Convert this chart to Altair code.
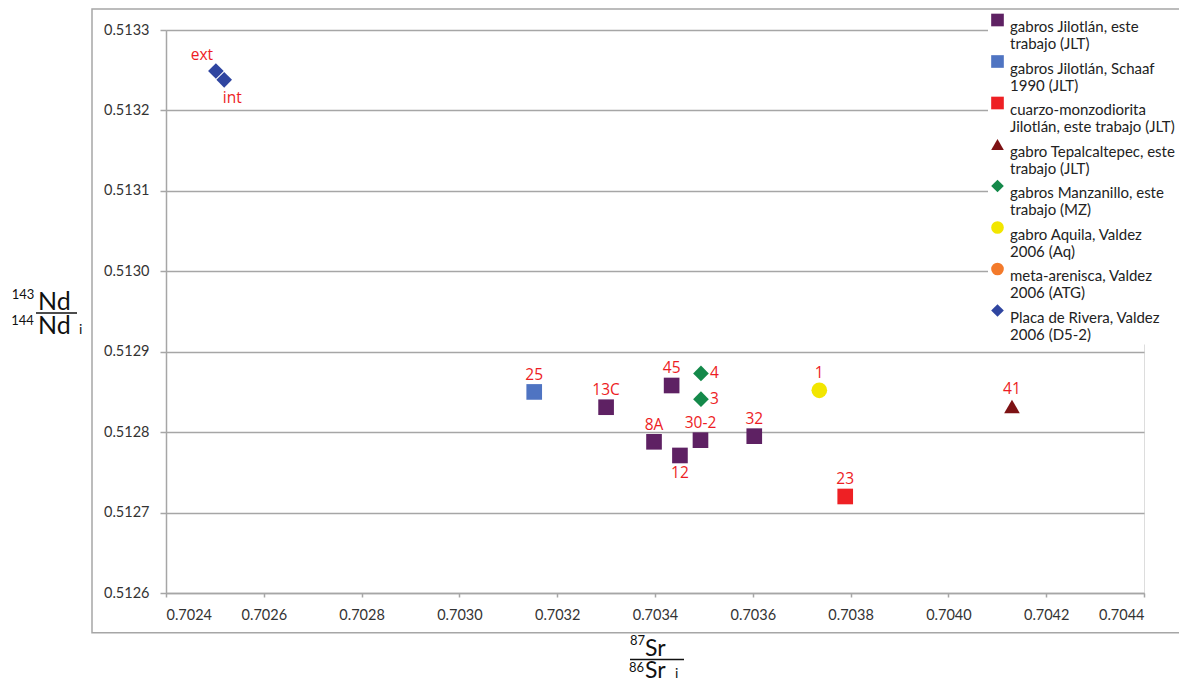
import altair as alt
import pandas as pd

# ---------------- data ----------------
labels = ["ext", "int", "25", "13C", "45", "4", "3", "8A", "12", "30-2", "32", "1", "23", "41"]
sr = [0.702502, 0.702519, 0.703153, 0.703300, 0.703434, 0.703494, 0.703494,
      0.703398, 0.703451, 0.703493, 0.703603, 0.703736, 0.703789, 0.704130]
nd = [0.513249, 0.513238, 0.512850, 0.512831, 0.512858, 0.512873, 0.512841,
      0.512788, 0.512771, 0.512790, 0.512795, 0.512852, 0.512720, 0.512832]

categories = [
    "gabros Jilotlán, este|trabajo (JLT)",
    "gabros Jilotlán, Schaaf|1990 (JLT)",
    "cuarzo-monzodiorita|Jilotlán, este trabajo (JLT)",
    "gabro Tepalcaltepec, este|trabajo (JLT)",
    "gabros Manzanillo, este|trabajo (MZ)",
    "gabro Aquila, Valdez|2006 (Aq)",
    "meta-arenisca, Valdez|2006 (ATG)",
    "Placa de Rivera, Valdez|2006 (D5-2)",
]
group_idx = [7, 7, 1, 0, 0, 4, 4, 0, 0, 0, 0, 5, 2, 3]
groups = [categories[i] for i in group_idx]
label_pos = ["above-left", "below-right", "above", "above", "above", "right", "right",
             "above", "below", "above", "above", "above", "above", "above"]

colors = ["#5E2163", "#4F74C2", "#EE2024", "#7D1214", "#14894A", "#F2E600", "#F37A2B", "#2F45A0"]
shapes = ["square", "square", "square", "triangle-up", "diamond", "circle", "circle", "diamond"]

x_ticks = [0.7024, 0.7026, 0.7028, 0.7030, 0.7032, 0.7034, 0.7036, 0.7038, 0.7040, 0.7042, 0.7044]
y_ticks = [0.5126, 0.5127, 0.5128, 0.5129, 0.5130, 0.5131, 0.5132, 0.5133]

df = pd.DataFrame({"label": labels, "sr": sr, "nd": nd, "grupo": groups, "pos": label_pos})

W, H = 978, 563
GRAY = "#A6A6A6"
FONT = "Lato"
LFONT = "Open Sans"
RED = "#ED1C24"

xs = alt.Scale(domain=[x_ticks[0], x_ticks[-1]], nice=False, zero=False)
ys = alt.Scale(domain=[y_ticks[0], y_ticks[-1]], nice=False, zero=False)

base = alt.Chart(df)

legend = alt.Legend(
    title=None, orient="none", legendX=822, legendY=-19.5,
    fillColor="white", padding=2, labelExpr="split(datum.label, '|')",
    labelFont=FONT, labelFontSize=15, labelColor="#222222", labelLimit=0,
    labelBaseline="top", labelOffset=5, symbolSize=160, symbolStrokeWidth=0,
    rowPadding=1.5, symbolOpacity=1,
)

points = base.mark_point(filled=True, opacity=1, size=245, strokeWidth=0).encode(
    x=alt.X("sr:Q", scale=xs, axis=alt.Axis(
        values=x_ticks, format=".4f", title=None, grid=False, tickSize=4,
        labelPadding=11, labelFont=FONT, labelFontSize=14.5, labelColor="#333333",
        domainColor=GRAY, tickColor=GRAY, domainWidth=1.5, tickWidth=1.5)),
    y=alt.Y("nd:Q", scale=ys, axis=alt.Axis(
        values=y_ticks, format=".4f", title=None, grid=True, gridColor=GRAY,
        gridWidth=1.4, tickSize=6, labelPadding=11, labelFont=FONT,
        labelFontSize=14.5, labelColor="#333333", domainColor=GRAY,
        tickColor=GRAY, domainWidth=1.5, tickWidth=1.5)),
    color=alt.Color("grupo:N", scale=alt.Scale(domain=categories, range=colors), legend=legend),
    shape=alt.Shape("grupo:N", scale=alt.Scale(domain=categories, range=shapes), legend=legend),
)


def point_labels(pos, dx, dy, align):
    return base.transform_filter(alt.datum.pos == pos).mark_text(
        dx=dx, dy=dy, align=align, baseline="middle", color=RED,
        font=LFONT, fontSize=15.5,
    ).encode(x=alt.X("sr:Q", scale=xs), y=alt.Y("nd:Q", scale=ys), text="label:N")


lab_layers = [
    point_labels("above", 0, -17, "center"),
    point_labels("below", 0, 18, "center"),
    point_labels("right", 9, 0, "left"),
    point_labels("above-left", -14, -16, "center"),
    point_labels("below-right", 8, 18, "center"),
]


def txt(s, x, y, size, align="left", baseline="alphabetic", line_height=None):
    kw = dict(align=align, baseline=baseline, fontSize=size, font=FONT, color="#111111")
    if line_height is not None:
        kw["lineHeight"] = line_height
    return alt.Chart(pd.DataFrame({"t": [0]})).mark_text(**kw).encode(
        x=alt.value(x), y=alt.value(y), text=alt.value(s))


def hline(x1, x2, y, color="#111111", width=1.5):
    return alt.Chart(pd.DataFrame({"t": [0]})).mark_rule(color=color, strokeWidth=width).encode(
        x=alt.value(x1), x2=alt.value(x2), y=alt.value(y))


frame = alt.Chart(pd.DataFrame({"t": [0]})).mark_rect(
    fillOpacity=0, stroke=GRAY, strokeWidth=1.5
).encode(x=alt.value(-74), x2=alt.value(1060), y=alt.value(-21), y2=alt.value(602.7))

# y-axis title: 143Nd / 144Nd i
ytitle = [
    txt("143", -143, 264.5, 13, "center", "middle"),
    txt(["Nd", "Nd"], -128, 280, 25, line_height=24),
    hline(-130, -89, 283),
    txt("144", -143.5, 290.5, 13, "center", "middle"),
    txt("i", -87, 304, 14),
]
# x-axis title: 87Sr / 86Sr i
xtitle = [
    txt("87", 471.5, 611, 13, "center", "middle"),
    txt(["Sr", "Sr"], 479, 626, 23, line_height=22),
    hline(464, 518, 629.5),
    txt("86", 470.5, 637.5, 13, "center", "middle"),
    txt("i", 509, 648, 14),
]

chart = alt.layer(frame, points, *lab_layers, *ytitle, *xtitle).properties(
    width=W, height=H,
    padding={"left": 158, "top": 22, "right": 35, "bottom": 90},
    autosize=alt.AutoSizeParams(type="none"),
).configure_view(stroke=None).configure(background="white")

chart.save("out.html", embed_options={"renderer": "svg", "actions": False})
